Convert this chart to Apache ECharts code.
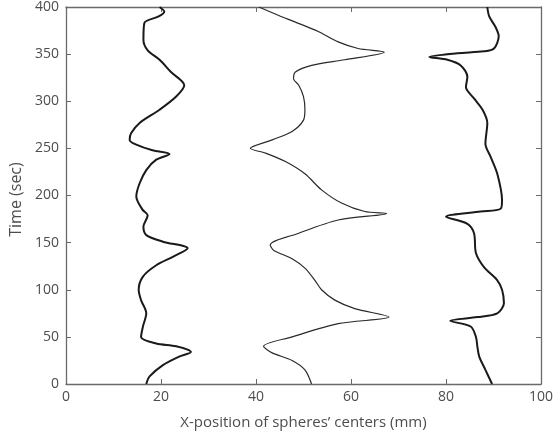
<!DOCTYPE html>
<html>
<head>
<meta charset="utf-8">
<script src="https://cdn.jsdelivr.net/npm/echarts@6/dist/echarts.min.js"></script>
<style>html,body{margin:0;padding:0;background:#fff;}#c{width:556px;height:435px;}</style>
</head>
<body>
<div id="c"></div>
<script>
// Sphere 1 (left)
var time1 = [0, 8, 20, 29, 34, 40, 43, 50, 61, 75, 89, 100, 114, 126, 135, 144, 151, 158, 167, 179, 185, 199, 213, 227, 238, 244, 248, 254, 259, 266, 277, 291, 305, 317, 331, 344, 354, 365, 383, 390, 395, 400];
var xpos1 = [16.9, 17.6, 20.4, 23.8, 26.3, 23.2, 19.0, 15.8, 16.2, 16.9, 15.8, 15.3, 16.2, 19.0, 22.5, 25.6, 20.4, 16.9, 16.3, 17.2, 16.1, 14.8, 15.5, 16.9, 19.0, 21.8, 18.2, 14.8, 13.4, 13.7, 15.5, 19.7, 23.2, 24.9, 22.1, 19.7, 17.2, 16.3, 16.5, 19.5, 20.7, 19.7];
// Sphere 2 (middle)
var time2 = [0, 15, 25, 33, 40, 50, 64, 71, 80, 89, 100, 110, 123, 133, 142, 147.5, 160, 174, 181, 183, 192, 206, 223, 236, 245, 250, 259, 268, 280, 291, 305, 317, 324, 331, 338, 344, 352, 356, 363, 374, 384, 391, 400];
var xpos2 = [51.7, 50.3, 47.6, 43.4, 41.6, 47.6, 57.3, 68.0, 60.8, 56.6, 53.8, 52.4, 50.3, 47.6, 43.7, 43.0, 49.0, 57.3, 67.5, 62.9, 58.0, 53.8, 50.3, 46.2, 42.0, 38.8, 43.4, 47.6, 50.0, 50.3, 50.0, 49.0, 47.9, 48.3, 51.7, 58.7, 67.0, 61.5, 57.3, 53.1, 48.3, 44.8, 40.6];
// Sphere 3 (right)
var time3 = [0, 15, 29, 40, 50, 61, 67, 71, 75, 86, 100, 110, 124, 139, 160, 170, 177.5, 183, 186, 195, 223, 241, 255, 277, 291, 303, 315, 326, 338, 344, 347, 351, 353, 356, 369, 379, 390, 400];
var xpos3 = [89.7, 88.3, 87.0, 86.6, 86.3, 85.2, 80.9, 86.6, 90.8, 92.2, 91.8, 90.8, 88.0, 86.3, 85.9, 84.5, 80.0, 87.3, 91.5, 91.8, 90.8, 89.4, 88.3, 88.7, 87.7, 85.9, 84.2, 84.5, 83.1, 80.3, 76.5, 82.4, 88.0, 90.1, 91.1, 90.4, 89.1, 88.7];
var xTicks = [0, 20, 40, 60, 80, 100];
var yTicks = [0, 50, 100, 150, 200, 250, 300, 350, 400];

function pairs(xs, ts) { return ts.map(function (t, i) { return [xs[i], t]; }); }

var chart = echarts.init(document.getElementById('c'), null, { renderer: 'canvas' });
var axisCol = '#6a6a6a';
var txtCol = '#4d4d4d';
var font = '"Open Sans", "Noto Sans", sans-serif';
chart.setOption({
  animation: false,
  backgroundColor: '#fff',
  grid: { left: 66, right: 12, top: 7, bottom: 51, containLabel: false },
  xAxis: [{
    type: 'value', min: xTicks[0], max: xTicks[xTicks.length - 1], interval: 20,
    name: 'X-position of spheres\u2019 centers (mm)', nameLocation: 'middle', nameGap: 31,
    nameTextStyle: { color: txtCol, fontSize: 15, fontFamily: font },
    axisLine: { show: true, lineStyle: { color: axisCol, width: 1.3 } },
    axisTick: { show: true, inside: true, length: 5, lineStyle: { color: axisCol } },
    axisLabel: { color: txtCol, fontSize: 14, fontFamily: font, margin: 6 },
    splitLine: { show: false }
  }, {
    type: 'value', position: 'top', min: 0, max: 100, interval: 20,
    axisLine: { show: true, onZero: false, lineStyle: { color: axisCol, width: 1.3 } },
    axisTick: { show: true, inside: true, length: 5, lineStyle: { color: axisCol } },
    axisLabel: { show: false }, splitLine: { show: false }
  }],
  yAxis: [{
    type: 'value', min: yTicks[0], max: yTicks[yTicks.length - 1], interval: 50,
    name: 'Time (sec)', nameLocation: 'middle', nameGap: 37, nameRotate: 90,
    nameTextStyle: { color: txtCol, fontSize: 16, fontFamily: font, padding: [0, 8, 0, 0] },
    axisLine: { show: true, lineStyle: { color: axisCol, width: 1.3 } },
    axisTick: { show: true, inside: true, length: 5, lineStyle: { color: axisCol } },
    axisLabel: { color: txtCol, fontSize: 14, fontFamily: font, margin: 7 },
    splitLine: { show: false }
  }, {
    type: 'value', position: 'right', min: 0, max: 400, interval: 50,
    axisLine: { show: true, onZero: false, lineStyle: { color: axisCol, width: 1.3 } },
    axisTick: { show: true, inside: true, length: 5, lineStyle: { color: axisCol } },
    axisLabel: { show: false }, splitLine: { show: false }
  }],
  series: [
    { type: 'line', data: pairs(xpos1, time1), showSymbol: false, smooth: 0.3, lineStyle: { color: '#1a1a1a', width: 2 } },
    { type: 'line', data: pairs(xpos2, time2), showSymbol: false, smooth: 0.3, lineStyle: { color: '#2a2a2a', width: 1.2 } },
    { type: 'line', data: pairs(xpos3, time3), showSymbol: false, smooth: 0.3, lineStyle: { color: '#1a1a1a', width: 2 } }
  ]
});
</script>
</body>
</html>
